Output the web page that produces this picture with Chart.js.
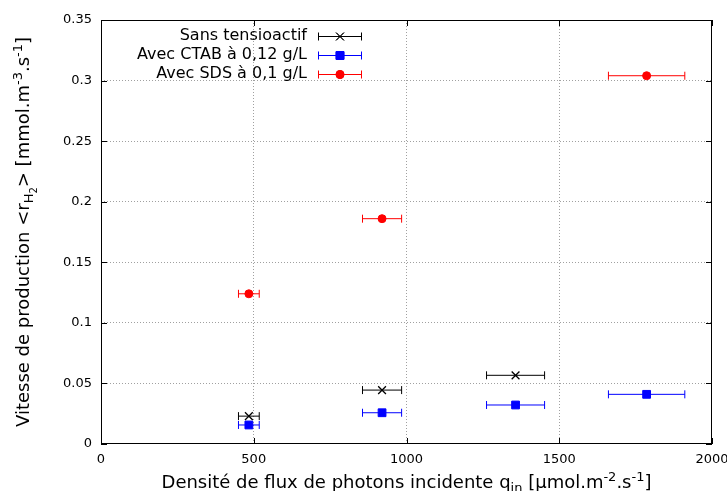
<!DOCTYPE html>
<html>
<head>
<meta charset="utf-8">
<script src="https://cdn.jsdelivr.net/npm/chart.js@4/dist/chart.umd.min.js"></script>
<style>
  body { margin: 0; background: #fff; }
  #c { display: block; }
</style>
</head>
<body>
<canvas id="c" width="727" height="491"></canvas>
<script>
// values
const seriesNames = ['Sans tensioactif', 'Avec CTAB à 0,12 g/L', 'Avec SDS à 0,1 g/L'];
const sansX = [484, 920, 1357];
const sansY = [0.023, 0.0445, 0.0567];
const sansErr = [34, 64, 95];
const ctabX = [484, 920, 1357, 1786];
const ctabY = [0.0157, 0.0258, 0.0322, 0.041];
const ctabErr = [34, 64, 95, 125];
const sdsX = [484, 920, 1786];
const sdsY = [0.124, 0.186, 0.304];
const sdsErr = [34, 64, 125];
const xTicks = [0, 500, 1000, 1500, 2000];
const yTicks = [0, 0.05, 0.1, 0.15, 0.2, 0.25, 0.3, 0.35];

const FONT = '"DejaVu Sans", sans-serif';

function pts(xs, ys) {
    return xs.map((x, i) => ({ x: x, y: ys[i] }));
}

const errs = [sansErr, ctabErr, sdsErr];

// text pieces: [text, shift] shift: 0 normal, 1 sup, -1 sub, -2 sub of sub
const SZ = { '0': 18, '1': 13, '-1': 13, '-2': 10 };
const DY = { '0': 0, '1': -7, '-1': 4, '-2': 8 };
function richText(ctx, parts, x, y, center) {
    let w = 0;
    parts.forEach(p => { ctx.font = SZ[p[1]] + 'px ' + FONT; w += ctx.measureText(p[0]).width; });
    if (center) x -= w / 2;
    parts.forEach(p => {
        ctx.font = SZ[p[1]] + 'px ' + FONT;
        ctx.fillText(p[0], x, y + DY[p[1]]);
        x += ctx.measureText(p[0]).width;
    });
}

const decor = {
    id: 'decor',
    beforeDatasetsDraw(chart) {
        const ctx = chart.ctx, xs = chart.scales.x, ys = chart.scales.y;
        ctx.save();
        ctx.lineWidth = 1;
        chart.data.datasets.forEach((ds, di) => {
            ctx.strokeStyle = ds.borderColor;
            ds.data.forEach((p, i) => {
                const e = errs[di][i];
                const x1 = xs.getPixelForValue(p.x - e), x2 = xs.getPixelForValue(p.x + e);
                const y = ys.getPixelForValue(p.y);
                ctx.beginPath();
                ctx.moveTo(x1, y); ctx.lineTo(x2, y);
                ctx.moveTo(x1, y - 4); ctx.lineTo(x1, y + 4);
                ctx.moveTo(x2, y - 4); ctx.lineTo(x2, y + 4);
                ctx.stroke();
            });
        });
        ctx.restore();
    },
    afterDraw(chart) {
        const ctx = chart.ctx, a = chart.chartArea, xs = chart.scales.x, ys = chart.scales.y;
        ctx.save();
        // frame and inward ticks
        ctx.strokeStyle = '#000';
        ctx.lineWidth = 1;
        ctx.strokeRect(a.left + 0.5, a.top + 0.5, a.right - a.left - 1, a.bottom - a.top - 1);
        ctx.beginPath();
        xTicks.forEach(v => {
            const x = Math.round(xs.getPixelForValue(v)) + 0.5;
            ctx.moveTo(x, a.bottom); ctx.lineTo(x, a.bottom - 6);
            ctx.moveTo(x, a.top); ctx.lineTo(x, a.top + 6);
        });
        yTicks.forEach(v => {
            const y = Math.round(ys.getPixelForValue(v)) + 0.5;
            ctx.moveTo(a.left, y); ctx.lineTo(a.left + 6, y);
            ctx.moveTo(a.right, y); ctx.lineTo(a.right - 6, y);
        });
        ctx.stroke();

        // axis titles
        ctx.fillStyle = '#000';
        ctx.textBaseline = 'alphabetic';
        ctx.textAlign = 'left';
        const xt = [['Densité de flux de photons incidente q', 0], ['in', -1], [' [µmol.m', 0], ['-2', 1], ['.s', 0], ['-1', 1], [']', 0]];
        richText(ctx, xt, (a.left + a.right) / 2, 488, true);

        const yt = [['Vitesse de production <r', 0], ['H', -1], ['2', -2], ['> [mmol.m', 0], ['-3', 1], ['.s', 0], ['-1', 1], [']', 0]];
        ctx.translate(29, (a.top + a.bottom) / 2);
        ctx.rotate(-Math.PI / 2);
        richText(ctx, yt, 0, 0, true);
        ctx.restore();

        // legend
        ctx.save();
        ctx.font = '16px ' + FONT;
        ctx.textAlign = 'right';
        ctx.textBaseline = 'middle';
        chart.data.datasets.forEach((ds, i) => {
            const y = a.top + 16 + i * 19;
            ctx.fillStyle = '#000';
            ctx.fillText(seriesNames[i], 307, y);
            ctx.strokeStyle = ds.borderColor;
            ctx.lineWidth = 1;
            ctx.beginPath();
            ctx.moveTo(318, y + 0.5); ctx.lineTo(362, y + 0.5);
            ctx.moveTo(318.5, y - 3.5); ctx.lineTo(318.5, y + 4.5);
            ctx.moveTo(361.5, y - 3.5); ctx.lineTo(361.5, y + 4.5);
            ctx.stroke();
            Chart.helpers.drawPoint(ctx, {
                pointStyle: ds.pointStyle, radius: ds.pointRadius, borderWidth: ds.borderWidth
            }, 340, y + 0.5);
            ctx.fillStyle = ds.backgroundColor;
            ctx.fill();
            ctx.stroke();
        });
        ctx.restore();
    }
};

new Chart(document.getElementById('c'), {
    type: 'scatter',
    data: {
        datasets: [{
            label: seriesNames[0],
            data: pts(sansX, sansY),
            pointStyle: 'crossRot',
            pointRadius: 5.5,
            borderWidth: 1.3,
            borderColor: '#000000',
            backgroundColor: '#000000'
        }, {
            label: seriesNames[1],
            data: pts(ctabX, ctabY),
            pointStyle: 'rect',
            pointRadius: 5.5,
            borderWidth: 1,
            borderColor: '#0000ff',
            backgroundColor: '#0000ff'
        }, {
            label: seriesNames[2],
            data: pts(sdsX, sdsY),
            pointStyle: 'circle',
            pointRadius: 4,
            borderWidth: 1,
            borderColor: '#ff0000',
            backgroundColor: '#ff0000'
        }]
    },
    options: {
        responsive: false,
        animation: false,
        layout: { padding: { top: 20, right: 15, left: 0, bottom: 0 } },
        plugins: { legend: { display: false }, tooltip: { enabled: false } },
        scales: {
            x: {
                type: 'linear', min: 0, max: 2000,
                afterFit: s => { s.height = 47; s.paddingRight = 0; s.paddingLeft = 0; },
                afterBuildTicks: s => { s.ticks = xTicks.map(v => ({ value: v })); },
                ticks: { color: '#000', font: { family: FONT, size: 13 }, padding: 8,
                    callback: v => String(v) },
                grid: {
                    drawTicks: false,
                    color: c => (c.tick.value === 0 || c.tick.value === 2000) ? 'rgba(0,0,0,0)' : '#a0a0a0'
                },
                border: { display: false, dash: [1, 2] }
            },
            y: {
                min: 0, max: 0.35,
                afterFit: s => { s.width = 101; },
                afterBuildTicks: s => { s.ticks = yTicks.map(v => ({ value: v })); },
                ticks: { color: '#000', font: { family: FONT, size: 13 }, padding: 9,
                    callback: v => String(Math.round(v * 100) / 100) },
                grid: {
                    drawTicks: false,
                    color: c => (c.tick.value === 0 || c.tick.value === 0.35) ? 'rgba(0,0,0,0)' : '#a0a0a0'
                },
                border: { display: false, dash: [1, 2] }
            }
        }
    },
    plugins: [decor]
});
</script>
</body>
</html>
